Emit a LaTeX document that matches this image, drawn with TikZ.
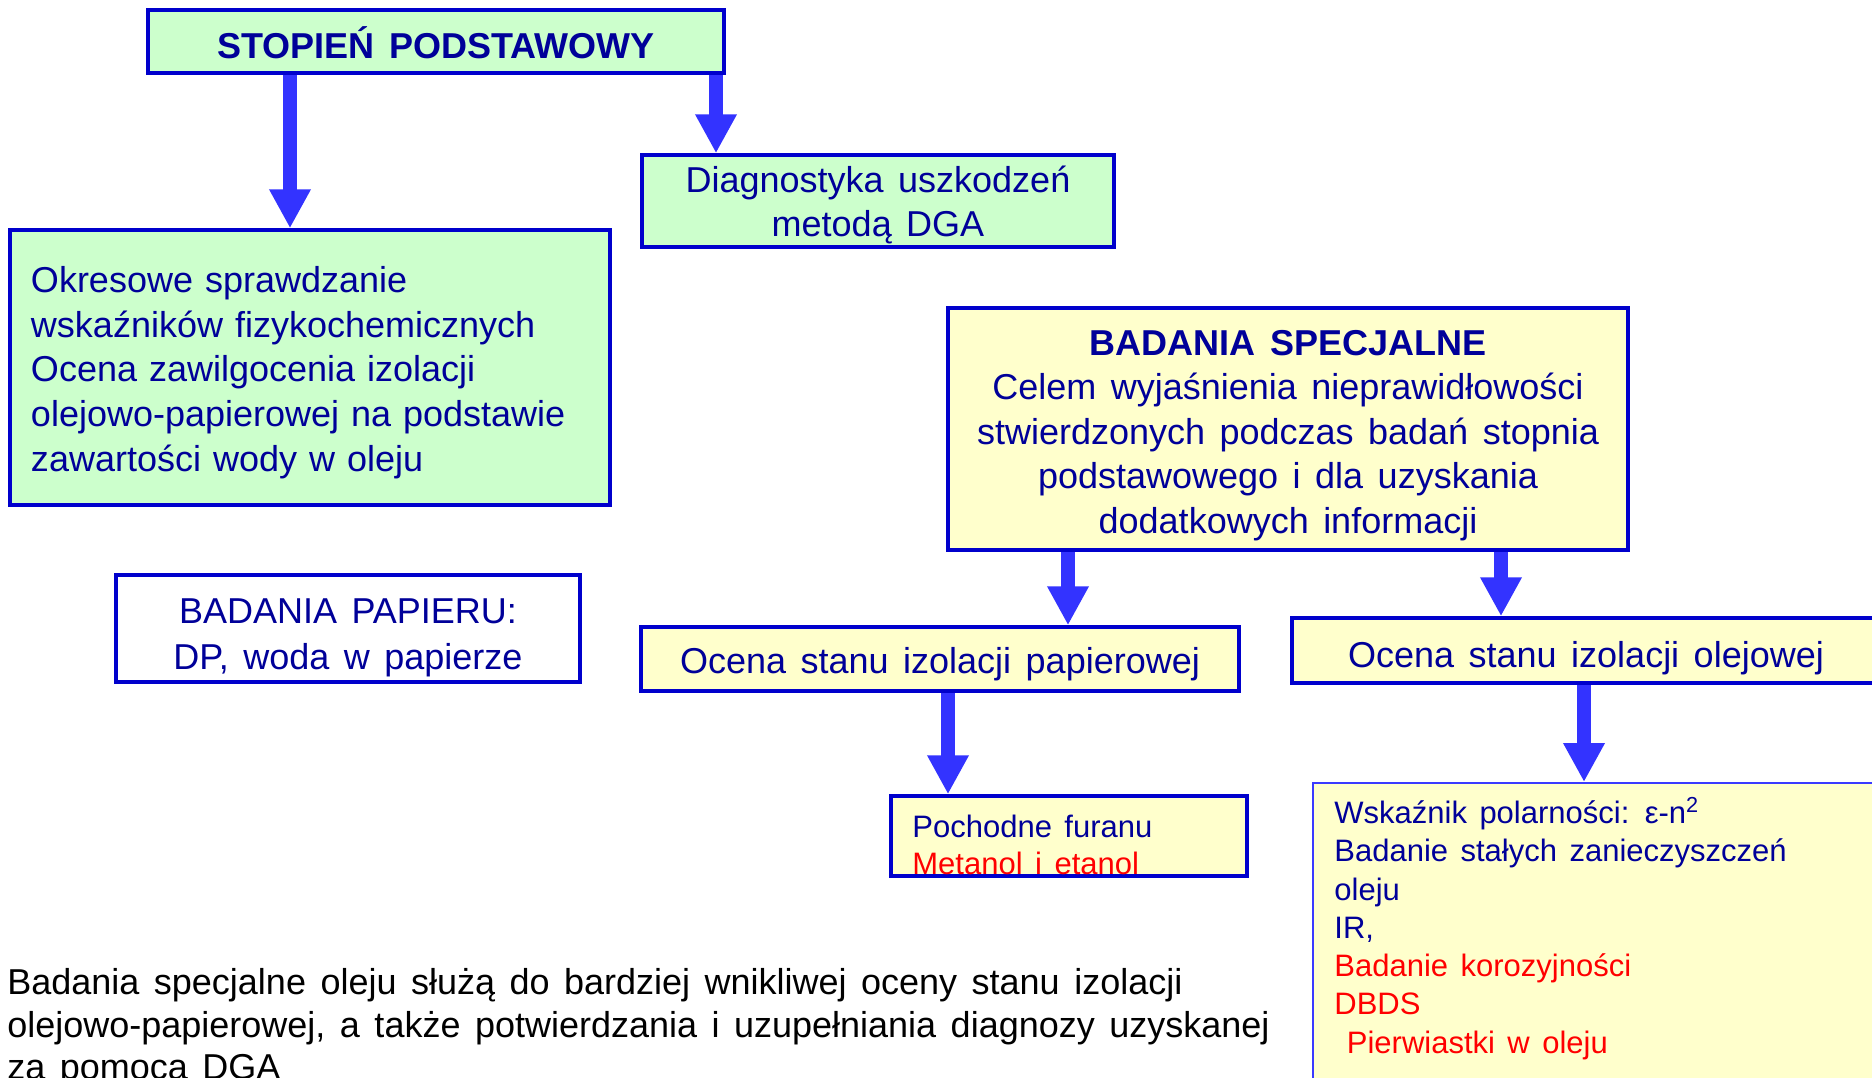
\documentclass[tikz,border=0pt]{standalone}
\usepackage{fontspec}
\setmainfont{Liberation Sans}[WordSpace=1.45]
\usetikzlibrary{arrows.meta}
\definecolor{navy}{HTML}{000099}
\definecolor{bord}{HTML}{0000CC}
\definecolor{thinb}{HTML}{3A3AFF}
\definecolor{arrc}{HTML}{3333FF}
\definecolor{gfill}{HTML}{CCFFCC}
\definecolor{yfill}{HTML}{FFFFCC}
\definecolor{redt}{HTML}{FF0000}
\begin{document}
\begin{tikzpicture}[x=0.5pt,y=-0.5pt,
  box/.style={draw=bord, line width=1.75pt, inner sep=0pt},
  gbox/.style={box, fill=gfill},
  ybox/.style={box, fill=yfill},
  wbox/.style={box, fill=white},
  btxt/.style={inner sep=0pt, text=navy, align=center, font=\fontsize{18}{22.4}\selectfont},
  small/.style={anchor=base west, inner sep=0pt, text=navy, font=\fontsize{15.5}{19}\selectfont},
  smallred/.style={small, text=redt},
  bottomtxt/.style={anchor=base west, inner sep=0pt, text=black, font=\fontsize{18}{21.5}\selectfont},
  arr/.style={draw=arrc, line width=7pt, -{Triangle[width=19.5pt,length=19.5pt]}},
]
\clip (0,0) rectangle (1872,1077);
\fill[white] (0,0) rectangle (1872,1077);

% boxes
\node[gbox, minimum width=288pt, minimum height=31.5pt] (stop) at (436,41.5) {};
\node[gbox, minimum width=236pt, minimum height=46pt] (diag) at (878,201) {};
\node[gbox, minimum width=300pt, minimum height=137.5pt] (okr) at (310,367.5) {};
\node[wbox, minimum width=232pt, minimum height=53.5pt] (pap) at (348,628.5) {};
\node[ybox, minimum width=340pt, minimum height=121pt] (spec) at (1288,429) {};
\node[ybox, minimum width=299pt, minimum height=32pt] (ocp) at (940,659) {};
\node[ybox, minimum width=294pt, minimum height=32.5pt] (oco) at (1586,650.5) {};
\node[ybox, minimum width=178pt, minimum height=40pt] (fur) at (1069,836) {};
\node[ybox, draw=thinb, line width=1pt, minimum width=291pt, minimum height=158.5pt] (wsk) at (1604,941.5) {};

% texts of the boxes
\node[btxt] (stoptxt) at ([yshift=-0.5pt]stop.center) {\textbf{STOPIEŃ PODSTAWOWY}};
\node[btxt] (diagtxt) at ([yshift=-2pt]diag.center) {Diagnostyka uszkodzeń\\metodą DGA};
\node[btxt, text width=279pt, align=left] (okrtxt) at ([yshift=-2.5pt]okr.center)
  {Okresowe sprawdzanie\\wskaźników fizykochemicznych\\Ocena zawilgocenia izolacji\\olejowo-papierowej na podstawie\\zawartości wody w oleju};
\node[btxt, font=\fontsize{18}{23}\selectfont] (paptxt) at ([yshift=-4.5pt]pap.center)
  {BADANIA PAPIERU:\\DP, woda w papierze};
\node[btxt, font=\fontsize{18}{22.3}\selectfont] (spectxt) at ([yshift=-3.25pt]spec.center)
  {\textbf{BADANIA SPECJALNE}\\Celem wyjaśnienia nieprawidłowości\\stwierdzonych podczas badań stopnia\\podstawowego i dla uzyskania\\dodatkowych informacji};
\node[btxt] (ocptxt) at ([yshift=-2.5pt]ocp.center) {Ocena stanu izolacji papierowej};
\node[btxt] (ocotxt) at ([yshift=-4pt]oco.center) {Ocena stanu izolacji olejowej};

\node[small] (fur1) at (912,837) {Pochodne furanu};
\node[smallred] (fur2) at (912,874) {Metanol i etanol};

\node[small] (w1) at (1334,823) {Wskaźnik polarności: ε-n\textsuperscript{2}};
\node[small] (w2) at (1334,861) {Badanie stałych zanieczyszczeń};
\node[small] (w3) at (1334,900) {oleju};
\node[small] (w4) at (1334,938) {IR,};
\node[smallred] (w5) at (1334,976) {Badanie korozyjności};
\node[smallred] (w6) at (1334,1014) {DBDS};
\node[smallred] (w7) at (1334,1053) {\ Pierwiastki w oleju};

% bottom text
\node[bottomtxt] (b1) at (7,994) {Badania specjalne oleju służą do bardziej wnikliwej oceny stanu izolacji};
\node[bottomtxt] (b2) at (7,1037) {olejowo-papierowej, a także potwierdzania i uzupełniania diagnozy uzyskanej};
\node[bottomtxt] (b3) at (7,1079) {za pomocą DGA};

% arrows
\draw[arr] (stop.south -| 290,0) -- (okr.north -| 290,0);
\draw[arr] (stop.south -| 716,0) -- (diag.north -| 716,0);
\draw[arr] (spec.south -| 1068,0) -- (ocp.north -| 1068,0);
\draw[arr] (spec.south -| 1501,0) -- (oco.north -| 1501,0);
\draw[arr] (ocp.south -| 948,0) -- (fur.north -| 948,0);
\draw[arr] (oco.south -| 1584,0) -- (wsk.north -| 1584,0);
\end{tikzpicture}
\end{document}
